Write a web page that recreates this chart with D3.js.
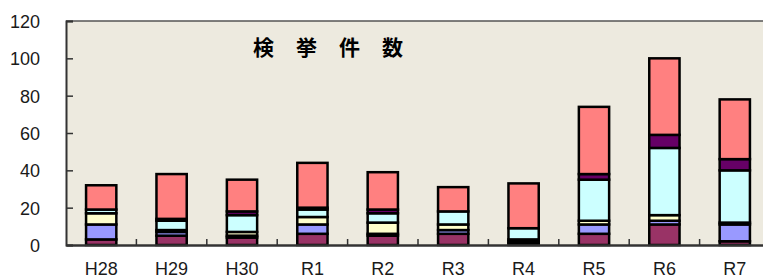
<!DOCTYPE html>
<html lang="ja">
<head>
<meta charset="UTF-8">
<title>検挙件数</title>
<script src="https://d3js.org/d3.v7.min.js"></script>
<style>
    body { margin: 0; background: #fff; }
    svg text { font-family: "Liberation Sans", Arial, sans-serif; }
</style>
</head>
<body>
<svg id="chart"></svg>
<script>
    // fiscal years on the x axis
    var years = ["H28", "H29", "H30", "R1", "R2", "R3", "R4", "R5", "R6", "R7"];

    // stacked series, bottom to top
    var seriesA = [3, 5, 4, 6, 5, 6, 1, 6, 11, 2];
    var seriesB = [8, 2, 1, 5, 1, 2, 1, 5, 2, 9];
    var seriesC = [6, 1, 2, 4, 6, 3, 1, 2, 3, 1];
    var seriesD = [2, 5, 9, 4, 5, 7, 6, 22, 36, 28];
    var seriesE = [0, 1, 2, 1, 2, 0, 0, 3, 7, 6];
    var seriesF = [13, 24, 17, 24, 20, 13, 24, 36, 41, 32];

    var seriesKeys = ["a", "b", "c", "d", "e", "f"];
    var seriesColors = ["#993366", "#9999FF", "#FFFFCC", "#CCFFFF", "#660066", "#FF8080"];
    var yTicks = [0, 20, 40, 60, 80, 100, 120];
    var title = "検挙件数";

    var width = 763, height = 280;
    var margin = {top: 21, right: -7, bottom: 35, left: 66};

    var rows = years.map(function (y, i) {
        return {year: y, a: seriesA[i], b: seriesB[i], c: seriesC[i],
                d: seriesD[i], e: seriesE[i], f: seriesF[i]};
    });

    var svg = d3.select("#chart")
        .attr("width", width)
        .attr("height", height);

    var x = d3.scaleBand()
        .domain(years)
        .range([margin.left, width - margin.right])
        .paddingInner(0.57)
        .paddingOuter(0.285);

    var y = d3.scaleLinear()
        .domain([0, 120])
        .range([height - margin.bottom, margin.top]);

    // plot area
    svg.append("rect")
        .attr("x", margin.left)
        .attr("y", margin.top)
        .attr("width", width - margin.left - margin.right)
        .attr("height", y(0) - margin.top)
        .attr("fill", "#EDEADF");

    svg.append("line")
        .attr("x1", margin.left).attr("x2", width)
        .attr("y1", margin.top).attr("y2", margin.top)
        .attr("stroke", "#555").attr("stroke-width", 1.5);

    var stack = d3.stack().keys(seriesKeys);
    var layers = stack(rows);

    svg.selectAll(".layer")
        .data(layers)
        .enter().append("g")
        .attr("class", "layer")
        .attr("fill", function (d, i) { return seriesColors[i]; })
        .selectAll("rect")
        .data(function (d) { return d; })
        .enter().append("rect")
        .attr("x", function (d) { return x(d.data.year); })
        .attr("width", x.bandwidth())
        .attr("y", function (d) { return y(d[1]); })
        .attr("height", function (d) { return y(d[0]) - y(d[1]); })
        .attr("stroke", "#000")
        .attr("stroke-width", 2.5);

    // y axis, ticks pointing into the plot
    var yAxis = d3.axisLeft(y).tickValues(yTicks).tickSize(-7).tickPadding(26);
    var gy = svg.append("g")
        .attr("transform", "translate(" + margin.left + ",0)")
        .call(yAxis);
    gy.select(".domain").attr("stroke", "#333").attr("stroke-width", 2);
    gy.selectAll(".tick line").attr("stroke", "#333").attr("stroke-width", 1.5);
    gy.selectAll("text").attr("font-size", 18).attr("fill", "#1a1a1a").attr("dy", "0.36em");

    // x axis, ticks between categories
    var xAxis = d3.axisBottom(x).tickSize(0).tickPadding(17);
    var gx = svg.append("g")
        .attr("transform", "translate(0," + y(0) + ")")
        .call(xAxis);
    gx.select(".domain").attr("stroke", "#333").attr("stroke-width", 2.5);
    gx.selectAll("text").attr("font-size", 18).attr("fill", "#1a1a1a");

    var step = x.step();
    svg.selectAll(".xsep")
        .data(years.slice(1))
        .enter().append("line")
        .attr("class", "xsep")
        .attr("x1", function (d) { return x(d) - step * x.paddingInner() / 2; })
        .attr("x2", function (d) { return x(d) - step * x.paddingInner() / 2; })
        .attr("y1", y(0)).attr("y2", y(0) - 6)
        .attr("stroke", "#333").attr("stroke-width", 1.5);

    svg.append("text")
        .attr("x", 253)
        .attr("y", 55)
        .attr("font-size", 21)
        .attr("font-weight", "bold")
        .attr("letter-spacing", 22)
        .style("font-family", "'Noto Sans CJK JP', sans-serif")
        .text(title);
</script>
</body>
</html>
